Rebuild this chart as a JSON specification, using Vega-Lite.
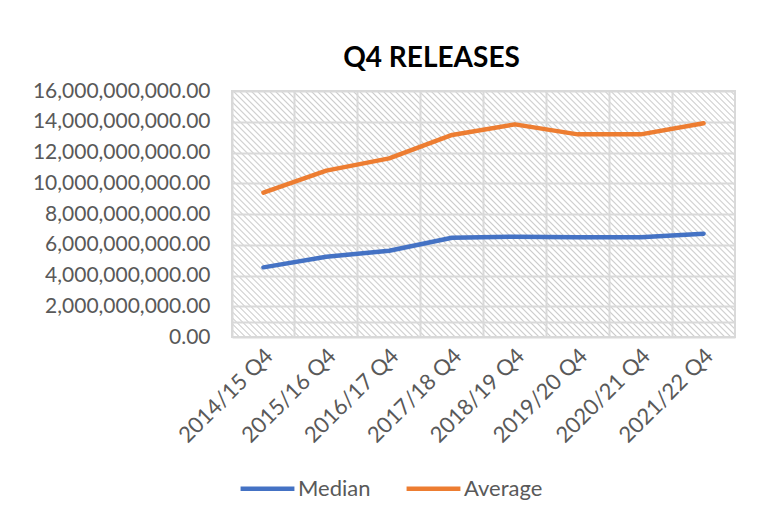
{
"$schema": "https://vega.github.io/schema/vega-lite/v6.json",
"width": 503,
"height": 246,
"autosize": "none",
"padding": {"left": 232, "top": 91, "right": 40, "bottom": 187},
"background": "white",
"title": {"text": "Q4 RELEASES", "font": "Lato", "fontSize": 28, "fontWeight": "bold", "color": "#000000", "anchor": "middle", "dx": -52, "dy": 25, "offset": 10, "baseline": "alphabetic"},
"view": {"stroke": "#d9d9d9", "strokeWidth": 2, "fill": {"gradient": "linear", "x1": 0, "y1": 1, "x2": 1.20165, "y2": 0.4123, "stops": [
{"offset":0,"color":"#fff"},{"offset":0.002,"color":"#cccccc"},{"offset":0.004,"color":"#fff"},
{"offset":0.008,"color":"#fff"},{"offset":0.01,"color":"#cccccc"},{"offset":0.012,"color":"#fff"},
{"offset":0.016,"color":"#fff"},{"offset":0.018,"color":"#cccccc"},{"offset":0.02,"color":"#fff"},
{"offset":0.024,"color":"#fff"},{"offset":0.026,"color":"#cccccc"},{"offset":0.028,"color":"#fff"},
{"offset":0.032,"color":"#fff"},{"offset":0.034,"color":"#cccccc"},{"offset":0.036,"color":"#fff"},
{"offset":0.04,"color":"#fff"},{"offset":0.042,"color":"#cccccc"},{"offset":0.044,"color":"#fff"},
{"offset":0.048,"color":"#fff"},{"offset":0.05,"color":"#cccccc"},{"offset":0.052,"color":"#fff"},
{"offset":0.056,"color":"#fff"},{"offset":0.058,"color":"#cccccc"},{"offset":0.06,"color":"#fff"},
{"offset":0.064,"color":"#fff"},{"offset":0.066,"color":"#cccccc"},{"offset":0.068,"color":"#fff"},
{"offset":0.072,"color":"#fff"},{"offset":0.074,"color":"#cccccc"},{"offset":0.076,"color":"#fff"},
{"offset":0.08,"color":"#fff"},{"offset":0.082,"color":"#cccccc"},{"offset":0.084,"color":"#fff"},
{"offset":0.088,"color":"#fff"},{"offset":0.09,"color":"#cccccc"},{"offset":0.092,"color":"#fff"},
{"offset":0.096,"color":"#fff"},{"offset":0.098,"color":"#cccccc"},{"offset":0.1,"color":"#fff"},
{"offset":0.104,"color":"#fff"},{"offset":0.106,"color":"#cccccc"},{"offset":0.108,"color":"#fff"},
{"offset":0.112,"color":"#fff"},{"offset":0.114,"color":"#cccccc"},{"offset":0.116,"color":"#fff"},
{"offset":0.12,"color":"#fff"},{"offset":0.122,"color":"#cccccc"},{"offset":0.124,"color":"#fff"},
{"offset":0.128,"color":"#fff"},{"offset":0.13,"color":"#cccccc"},{"offset":0.132,"color":"#fff"},
{"offset":0.136,"color":"#fff"},{"offset":0.138,"color":"#cccccc"},{"offset":0.14,"color":"#fff"},
{"offset":0.144,"color":"#fff"},{"offset":0.146,"color":"#cccccc"},{"offset":0.148,"color":"#fff"},
{"offset":0.152,"color":"#fff"},{"offset":0.154,"color":"#cccccc"},{"offset":0.156,"color":"#fff"},
{"offset":0.16,"color":"#fff"},{"offset":0.162,"color":"#cccccc"},{"offset":0.164,"color":"#fff"},
{"offset":0.168,"color":"#fff"},{"offset":0.17,"color":"#cccccc"},{"offset":0.172,"color":"#fff"},
{"offset":0.176,"color":"#fff"},{"offset":0.178,"color":"#cccccc"},{"offset":0.18,"color":"#fff"},
{"offset":0.184,"color":"#fff"},{"offset":0.186,"color":"#cccccc"},{"offset":0.188,"color":"#fff"},
{"offset":0.192,"color":"#fff"},{"offset":0.194,"color":"#cccccc"},{"offset":0.196,"color":"#fff"},
{"offset":0.2,"color":"#fff"},{"offset":0.202,"color":"#cccccc"},{"offset":0.204,"color":"#fff"},
{"offset":0.208,"color":"#fff"},{"offset":0.21,"color":"#cccccc"},{"offset":0.212,"color":"#fff"},
{"offset":0.216,"color":"#fff"},{"offset":0.218,"color":"#cccccc"},{"offset":0.22,"color":"#fff"},
{"offset":0.224,"color":"#fff"},{"offset":0.226,"color":"#cccccc"},{"offset":0.228,"color":"#fff"},
{"offset":0.232,"color":"#fff"},{"offset":0.234,"color":"#cccccc"},{"offset":0.236,"color":"#fff"},
{"offset":0.24,"color":"#fff"},{"offset":0.242,"color":"#cccccc"},{"offset":0.244,"color":"#fff"},
{"offset":0.248,"color":"#fff"},{"offset":0.25,"color":"#cccccc"},{"offset":0.252,"color":"#fff"},
{"offset":0.256,"color":"#fff"},{"offset":0.258,"color":"#cccccc"},{"offset":0.26,"color":"#fff"},
{"offset":0.264,"color":"#fff"},{"offset":0.266,"color":"#cccccc"},{"offset":0.268,"color":"#fff"},
{"offset":0.272,"color":"#fff"},{"offset":0.274,"color":"#cccccc"},{"offset":0.276,"color":"#fff"},
{"offset":0.28,"color":"#fff"},{"offset":0.282,"color":"#cccccc"},{"offset":0.284,"color":"#fff"},
{"offset":0.288,"color":"#fff"},{"offset":0.29,"color":"#cccccc"},{"offset":0.292,"color":"#fff"},
{"offset":0.296,"color":"#fff"},{"offset":0.298,"color":"#cccccc"},{"offset":0.3,"color":"#fff"},
{"offset":0.304,"color":"#fff"},{"offset":0.306,"color":"#cccccc"},{"offset":0.308,"color":"#fff"},
{"offset":0.312,"color":"#fff"},{"offset":0.314,"color":"#cccccc"},{"offset":0.316,"color":"#fff"},
{"offset":0.32,"color":"#fff"},{"offset":0.322,"color":"#cccccc"},{"offset":0.324,"color":"#fff"},
{"offset":0.328,"color":"#fff"},{"offset":0.33,"color":"#cccccc"},{"offset":0.332,"color":"#fff"},
{"offset":0.336,"color":"#fff"},{"offset":0.338,"color":"#cccccc"},{"offset":0.34,"color":"#fff"},
{"offset":0.344,"color":"#fff"},{"offset":0.346,"color":"#cccccc"},{"offset":0.348,"color":"#fff"},
{"offset":0.352,"color":"#fff"},{"offset":0.354,"color":"#cccccc"},{"offset":0.356,"color":"#fff"},
{"offset":0.36,"color":"#fff"},{"offset":0.362,"color":"#cccccc"},{"offset":0.364,"color":"#fff"},
{"offset":0.368,"color":"#fff"},{"offset":0.37,"color":"#cccccc"},{"offset":0.372,"color":"#fff"},
{"offset":0.376,"color":"#fff"},{"offset":0.378,"color":"#cccccc"},{"offset":0.38,"color":"#fff"},
{"offset":0.384,"color":"#fff"},{"offset":0.386,"color":"#cccccc"},{"offset":0.388,"color":"#fff"},
{"offset":0.392,"color":"#fff"},{"offset":0.394,"color":"#cccccc"},{"offset":0.396,"color":"#fff"},
{"offset":0.4,"color":"#fff"},{"offset":0.402,"color":"#cccccc"},{"offset":0.404,"color":"#fff"},
{"offset":0.408,"color":"#fff"},{"offset":0.41,"color":"#cccccc"},{"offset":0.412,"color":"#fff"},
{"offset":0.416,"color":"#fff"},{"offset":0.418,"color":"#cccccc"},{"offset":0.42,"color":"#fff"},
{"offset":0.424,"color":"#fff"},{"offset":0.426,"color":"#cccccc"},{"offset":0.428,"color":"#fff"},
{"offset":0.432,"color":"#fff"},{"offset":0.434,"color":"#cccccc"},{"offset":0.436,"color":"#fff"},
{"offset":0.44,"color":"#fff"},{"offset":0.442,"color":"#cccccc"},{"offset":0.444,"color":"#fff"},
{"offset":0.448,"color":"#fff"},{"offset":0.45,"color":"#cccccc"},{"offset":0.452,"color":"#fff"},
{"offset":0.456,"color":"#fff"},{"offset":0.458,"color":"#cccccc"},{"offset":0.46,"color":"#fff"},
{"offset":0.464,"color":"#fff"},{"offset":0.466,"color":"#cccccc"},{"offset":0.468,"color":"#fff"},
{"offset":0.472,"color":"#fff"},{"offset":0.474,"color":"#cccccc"},{"offset":0.476,"color":"#fff"},
{"offset":0.48,"color":"#fff"},{"offset":0.482,"color":"#cccccc"},{"offset":0.484,"color":"#fff"},
{"offset":0.488,"color":"#fff"},{"offset":0.49,"color":"#cccccc"},{"offset":0.492,"color":"#fff"},
{"offset":0.496,"color":"#fff"},{"offset":0.498,"color":"#cccccc"},{"offset":0.5,"color":"#fff"},
{"offset":0.504,"color":"#fff"},{"offset":0.506,"color":"#cccccc"},{"offset":0.508,"color":"#fff"},
{"offset":0.512,"color":"#fff"},{"offset":0.514,"color":"#cccccc"},{"offset":0.516,"color":"#fff"},
{"offset":0.52,"color":"#fff"},{"offset":0.522,"color":"#cccccc"},{"offset":0.524,"color":"#fff"},
{"offset":0.528,"color":"#fff"},{"offset":0.53,"color":"#cccccc"},{"offset":0.532,"color":"#fff"},
{"offset":0.536,"color":"#fff"},{"offset":0.538,"color":"#cccccc"},{"offset":0.54,"color":"#fff"},
{"offset":0.544,"color":"#fff"},{"offset":0.546,"color":"#cccccc"},{"offset":0.548,"color":"#fff"},
{"offset":0.552,"color":"#fff"},{"offset":0.554,"color":"#cccccc"},{"offset":0.556,"color":"#fff"},
{"offset":0.56,"color":"#fff"},{"offset":0.562,"color":"#cccccc"},{"offset":0.564,"color":"#fff"},
{"offset":0.568,"color":"#fff"},{"offset":0.57,"color":"#cccccc"},{"offset":0.572,"color":"#fff"},
{"offset":0.576,"color":"#fff"},{"offset":0.578,"color":"#cccccc"},{"offset":0.58,"color":"#fff"},
{"offset":0.584,"color":"#fff"},{"offset":0.586,"color":"#cccccc"},{"offset":0.588,"color":"#fff"},
{"offset":0.592,"color":"#fff"},{"offset":0.594,"color":"#cccccc"},{"offset":0.596,"color":"#fff"},
{"offset":0.6,"color":"#fff"},{"offset":0.602,"color":"#cccccc"},{"offset":0.604,"color":"#fff"},
{"offset":0.608,"color":"#fff"},{"offset":0.61,"color":"#cccccc"},{"offset":0.612,"color":"#fff"},
{"offset":0.616,"color":"#fff"},{"offset":0.618,"color":"#cccccc"},{"offset":0.62,"color":"#fff"},
{"offset":0.624,"color":"#fff"},{"offset":0.626,"color":"#cccccc"},{"offset":0.628,"color":"#fff"},
{"offset":0.632,"color":"#fff"},{"offset":0.634,"color":"#cccccc"},{"offset":0.636,"color":"#fff"},
{"offset":0.64,"color":"#fff"},{"offset":0.642,"color":"#cccccc"},{"offset":0.644,"color":"#fff"},
{"offset":0.648,"color":"#fff"},{"offset":0.65,"color":"#cccccc"},{"offset":0.652,"color":"#fff"},
{"offset":0.656,"color":"#fff"},{"offset":0.658,"color":"#cccccc"},{"offset":0.66,"color":"#fff"},
{"offset":0.664,"color":"#fff"},{"offset":0.666,"color":"#cccccc"},{"offset":0.668,"color":"#fff"},
{"offset":0.672,"color":"#fff"},{"offset":0.674,"color":"#cccccc"},{"offset":0.676,"color":"#fff"},
{"offset":0.68,"color":"#fff"},{"offset":0.682,"color":"#cccccc"},{"offset":0.684,"color":"#fff"},
{"offset":0.688,"color":"#fff"},{"offset":0.69,"color":"#cccccc"},{"offset":0.692,"color":"#fff"},
{"offset":0.696,"color":"#fff"},{"offset":0.698,"color":"#cccccc"},{"offset":0.7,"color":"#fff"},
{"offset":0.704,"color":"#fff"},{"offset":0.706,"color":"#cccccc"},{"offset":0.708,"color":"#fff"},
{"offset":0.712,"color":"#fff"},{"offset":0.714,"color":"#cccccc"},{"offset":0.716,"color":"#fff"},
{"offset":0.72,"color":"#fff"},{"offset":0.722,"color":"#cccccc"},{"offset":0.724,"color":"#fff"},
{"offset":0.728,"color":"#fff"},{"offset":0.73,"color":"#cccccc"},{"offset":0.732,"color":"#fff"},
{"offset":0.736,"color":"#fff"},{"offset":0.738,"color":"#cccccc"},{"offset":0.74,"color":"#fff"},
{"offset":0.744,"color":"#fff"},{"offset":0.746,"color":"#cccccc"},{"offset":0.748,"color":"#fff"},
{"offset":0.752,"color":"#fff"},{"offset":0.754,"color":"#cccccc"},{"offset":0.756,"color":"#fff"},
{"offset":0.76,"color":"#fff"},{"offset":0.762,"color":"#cccccc"},{"offset":0.764,"color":"#fff"},
{"offset":0.768,"color":"#fff"},{"offset":0.77,"color":"#cccccc"},{"offset":0.772,"color":"#fff"},
{"offset":0.776,"color":"#fff"},{"offset":0.778,"color":"#cccccc"},{"offset":0.78,"color":"#fff"},
{"offset":0.784,"color":"#fff"},{"offset":0.786,"color":"#cccccc"},{"offset":0.788,"color":"#fff"},
{"offset":0.792,"color":"#fff"},{"offset":0.794,"color":"#cccccc"},{"offset":0.796,"color":"#fff"},
{"offset":0.8,"color":"#fff"},{"offset":0.802,"color":"#cccccc"},{"offset":0.804,"color":"#fff"},
{"offset":0.808,"color":"#fff"},{"offset":0.81,"color":"#cccccc"},{"offset":0.812,"color":"#fff"},
{"offset":0.816,"color":"#fff"},{"offset":0.818,"color":"#cccccc"},{"offset":0.82,"color":"#fff"},
{"offset":0.824,"color":"#fff"},{"offset":0.826,"color":"#cccccc"},{"offset":0.828,"color":"#fff"},
{"offset":0.832,"color":"#fff"},{"offset":0.834,"color":"#cccccc"},{"offset":0.836,"color":"#fff"},
{"offset":0.84,"color":"#fff"},{"offset":0.842,"color":"#cccccc"},{"offset":0.844,"color":"#fff"},
{"offset":0.848,"color":"#fff"},{"offset":0.85,"color":"#cccccc"},{"offset":0.852,"color":"#fff"},
{"offset":0.856,"color":"#fff"},{"offset":0.858,"color":"#cccccc"},{"offset":0.86,"color":"#fff"},
{"offset":0.864,"color":"#fff"},{"offset":0.866,"color":"#cccccc"},{"offset":0.868,"color":"#fff"},
{"offset":0.872,"color":"#fff"},{"offset":0.874,"color":"#cccccc"},{"offset":0.876,"color":"#fff"},
{"offset":0.88,"color":"#fff"},{"offset":0.882,"color":"#cccccc"},{"offset":0.884,"color":"#fff"},
{"offset":0.888,"color":"#fff"},{"offset":0.89,"color":"#cccccc"},{"offset":0.892,"color":"#fff"},
{"offset":0.896,"color":"#fff"},{"offset":0.898,"color":"#cccccc"},{"offset":0.9,"color":"#fff"},
{"offset":0.904,"color":"#fff"},{"offset":0.906,"color":"#cccccc"},{"offset":0.908,"color":"#fff"},
{"offset":0.912,"color":"#fff"},{"offset":0.914,"color":"#cccccc"},{"offset":0.916,"color":"#fff"},
{"offset":0.92,"color":"#fff"},{"offset":0.922,"color":"#cccccc"},{"offset":0.924,"color":"#fff"},
{"offset":0.928,"color":"#fff"},{"offset":0.93,"color":"#cccccc"},{"offset":0.932,"color":"#fff"},
{"offset":0.936,"color":"#fff"},{"offset":0.938,"color":"#cccccc"},{"offset":0.94,"color":"#fff"},
{"offset":0.944,"color":"#fff"},{"offset":0.946,"color":"#cccccc"},{"offset":0.948,"color":"#fff"},
{"offset":0.952,"color":"#fff"},{"offset":0.954,"color":"#cccccc"},{"offset":0.956,"color":"#fff"},
{"offset":0.96,"color":"#fff"},{"offset":0.962,"color":"#cccccc"},{"offset":0.964,"color":"#fff"},
{"offset":0.968,"color":"#fff"},{"offset":0.97,"color":"#cccccc"},{"offset":0.972,"color":"#fff"},
{"offset":0.976,"color":"#fff"},{"offset":0.978,"color":"#cccccc"},{"offset":0.98,"color":"#fff"},
{"offset":0.984,"color":"#fff"},{"offset":0.986,"color":"#cccccc"},{"offset":0.988,"color":"#fff"},
{"offset":0.992,"color":"#fff"},{"offset":0.994,"color":"#cccccc"},{"offset":0.996,"color":"#fff"},
{"offset":1,"color":"#fff"}
]}},
"data": {"values": [
{"period": "2014/15 Q4", "series": "Median", "value": 4530000000},
{"period": "2015/16 Q4", "series": "Median", "value": 5220000000},
{"period": "2016/17 Q4", "series": "Median", "value": 5610000000},
{"period": "2017/18 Q4", "series": "Median", "value": 6460000000},
{"period": "2018/19 Q4", "series": "Median", "value": 6520000000},
{"period": "2019/20 Q4", "series": "Median", "value": 6480000000},
{"period": "2020/21 Q4", "series": "Median", "value": 6480000000},
{"period": "2021/22 Q4", "series": "Median", "value": 6720000000},
{"period": "2014/15 Q4", "series": "Average", "value": 9390000000},
{"period": "2015/16 Q4", "series": "Average", "value": 10820000000},
{"period": "2016/17 Q4", "series": "Average", "value": 11620000000},
{"period": "2017/18 Q4", "series": "Average", "value": 13140000000},
{"period": "2018/19 Q4", "series": "Average", "value": 13830000000},
{"period": "2019/20 Q4", "series": "Average", "value": 13180000000},
{"period": "2020/21 Q4", "series": "Average", "value": 13180000000},
{"period": "2021/22 Q4", "series": "Average", "value": 13900000000}
]},
"mark": {"type": "line", "strokeWidth": 4.5, "strokeCap": "round", "strokeJoin": "round"},
"encoding": {
  "x": {"field": "period", "type": "ordinal", "sort": null, "bandPosition": 0.5,
        "scale": {"type": "band", "paddingInner": 0, "paddingOuter": 0},
        "axis": {"title": null, "bandPosition": 0, "grid": true, "gridColor": "#d9d9d9", "gridWidth": 2, "ticks": false, "domain": false,
                 "labelAngle": -45, "labelAlign": "right", "labelBaseline": "middle", "labelFont": "Lato", "labelFontSize": 22, "labelColor": "#595959", "labelPadding": 15, "labelOffset": 6}},
  "y": {"field": "value", "type": "quantitative",
        "scale": {"domain": [0, 16000000000], "nice": false},
        "axis": {"title": null, "values": [0, 1000000000, 2000000000, 4000000000, 6000000000, 8000000000, 10000000000, 12000000000, 14000000000, 16000000000],
                 "labelExpr": "datum.value == 1000000000 ? '' : datum.label",
                 "format": ",.2f", "grid": true, "gridColor": "#d9d9d9", "gridWidth": 2, "ticks": false, "domain": false,
                 "labelFont": "Lato", "labelFontSize": 21, "labelColor": "#595959", "labelPadding": 22}},
  "color": {"field": "series", "type": "nominal",
            "scale": {"domain": ["Median", "Average"], "range": ["#4472C4", "#ED7D31"]},
            "legend": {"title": null, "orient": "none", "legendX": 6, "legendY": 368, "direction": "horizontal",
                       "symbolType": "stroke", "symbolSize": 2900, "symbolStrokeWidth": 4.5,
                       "labelFont": "Lato", "labelFontSize": 22, "labelColor": "#595959", "labelOffset": 1, "columnPadding": 26}}
}
}
